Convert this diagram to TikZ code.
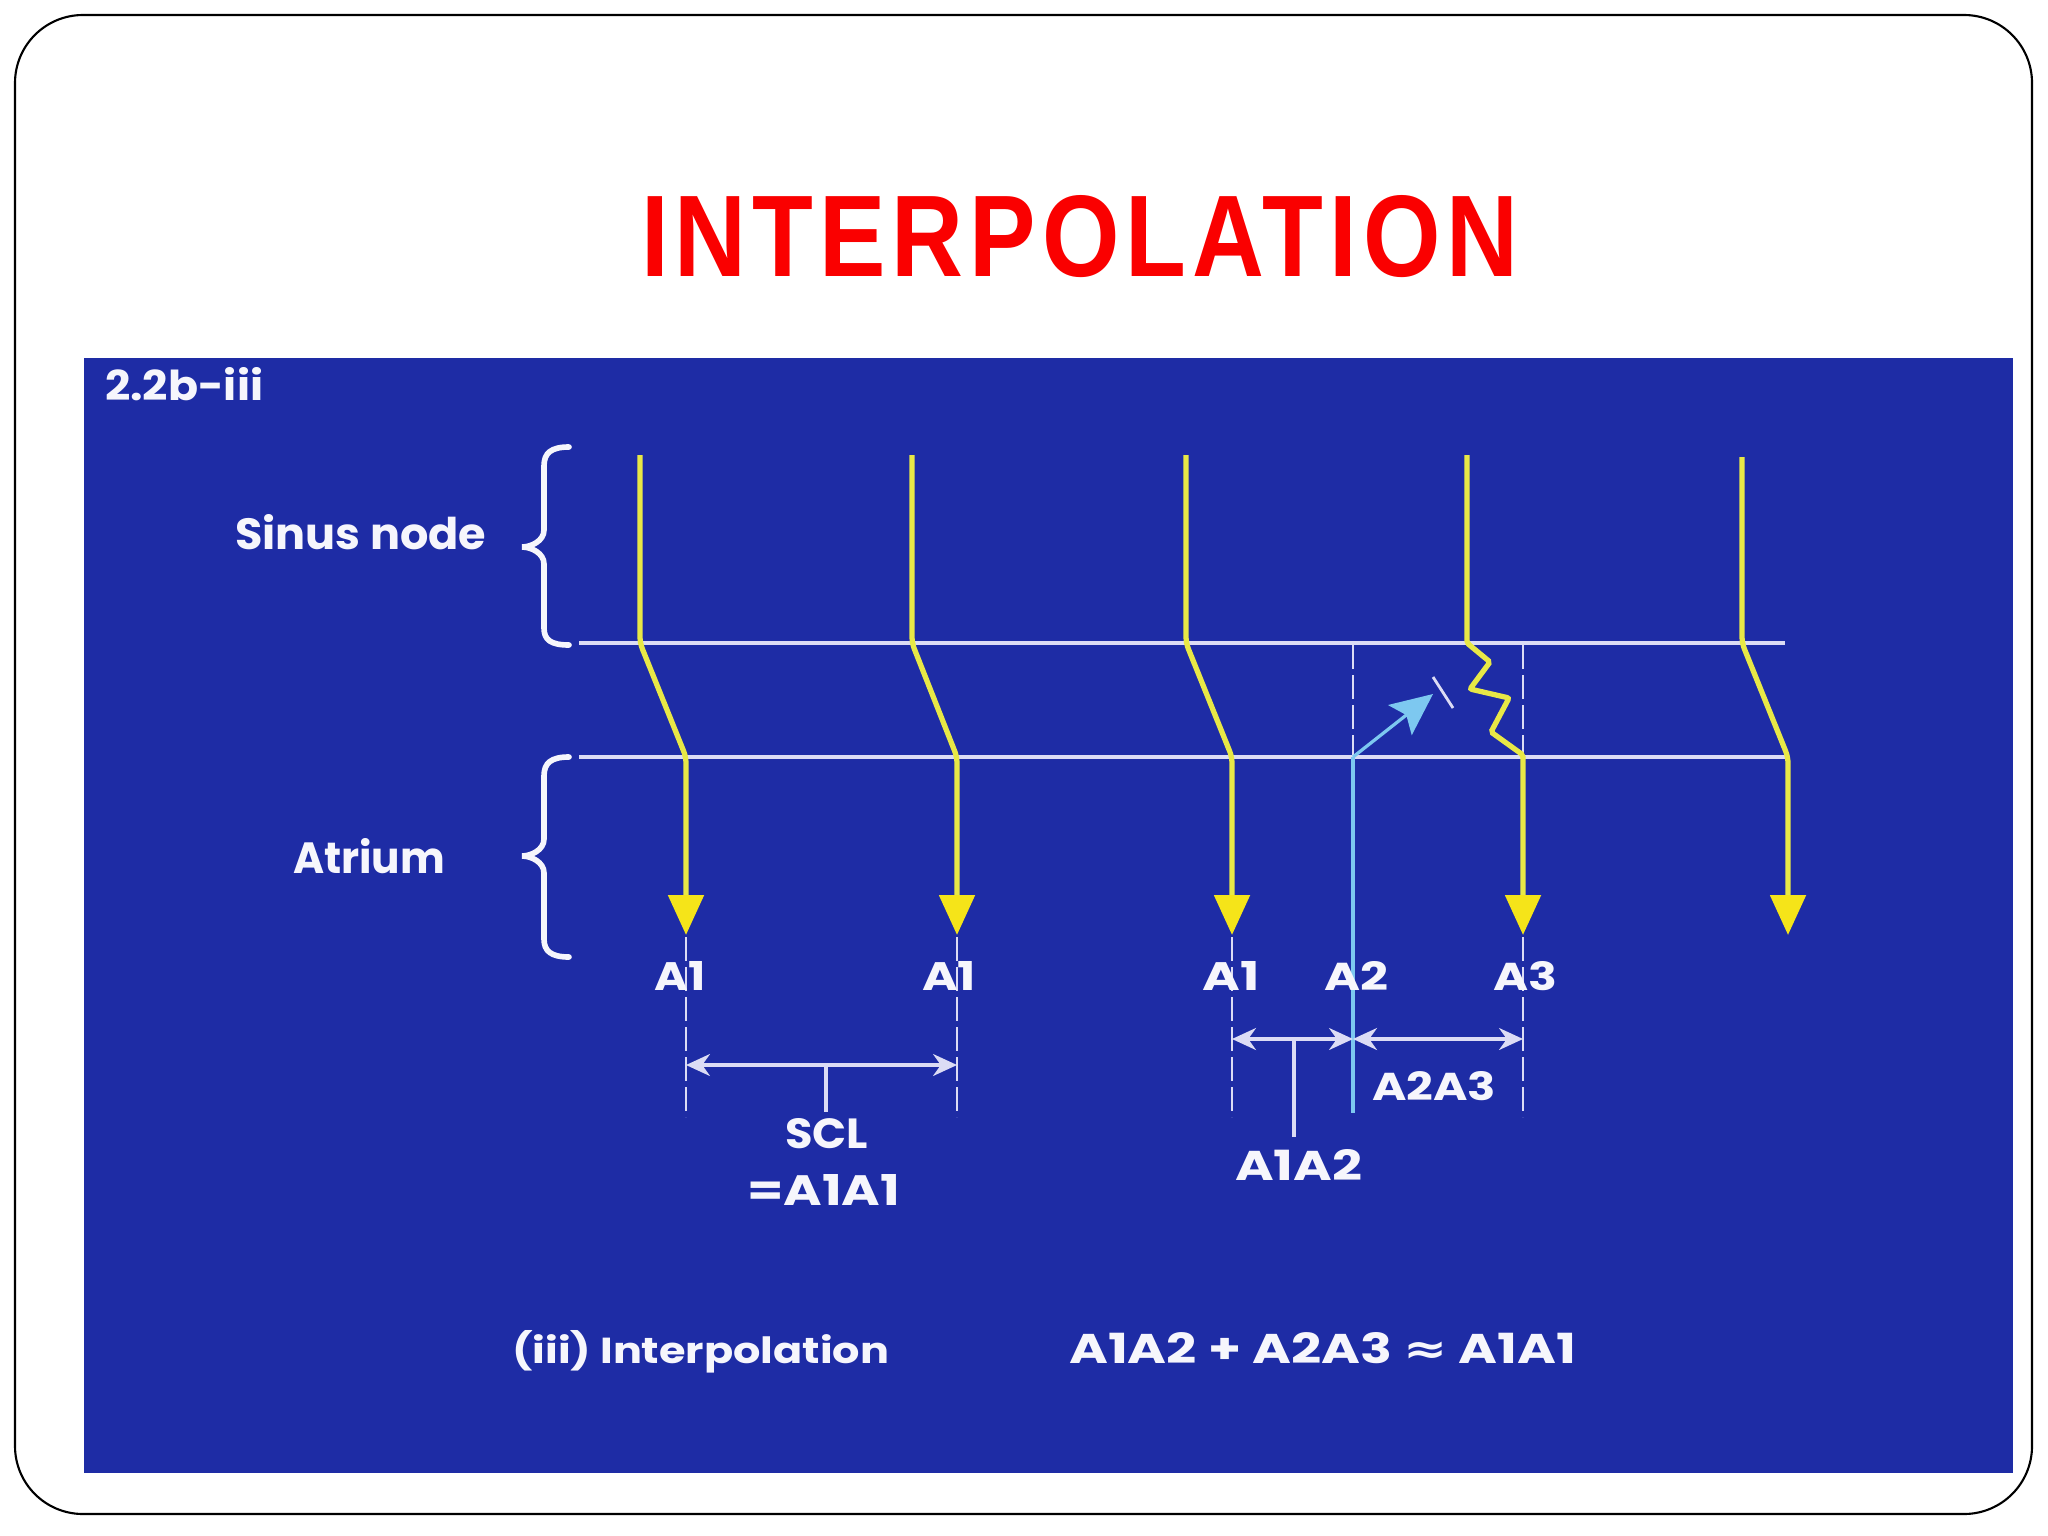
\documentclass[tikz,border=0pt]{standalone}
\usepackage{fontspec}
\usetikzlibrary{arrows.meta}
\newfontfamily\titlefont[LetterSpace=6]{Liberation Sans}
\newfontfamily\dfont{Poppins}
\newfontfamily\symfont{DejaVu Sans}
\definecolor{bgblue}{RGB}{30,44,165}
\definecolor{titlered}{RGB}{250,0,0}
\definecolor{paleline}{RGB}{220,220,245}
\definecolor{yel}{RGB}{232,232,70}
\definecolor{arrowyel}{RGB}{245,228,25}
\definecolor{skyc}{RGB}{125,200,240}
\definecolor{txtw}{RGB}{246,246,252}
\newcommand\fb[3]{\resizebox{#1}{#2}{#3}}
\begin{document}
\begin{tikzpicture}[x=0.05cm,y=-0.05cm,
  hline/.style={draw=paleline,line width=4.6pt},
  yelline/.style={draw=yel,line width=7.5pt,rounded corners=0.3cm,
     -{Triangle[length=2cm,width=1.75cm,color=arrowyel]}},
  dashline/.style={draw=paleline,line width=3.6pt,dash pattern=on 1.2cm off 0.3cm},
  dimline/.style={draw=paleline,line width=4.4pt},
  dimarrows/.style={{Stealth[length=1.2cm,width=1.1cm]}-{Stealth[length=1.2cm,width=1.1cm]}},
  bracestyle/.style={draw=txtw,line width=8pt,line cap=round},
  lbl/.style={text=txtw,inner sep=0pt,font=\dfont\bfseries},
]
\useasboundingbox (0,0) rectangle (2048,1536);
\fill[white] (0,0) rectangle (2048,1536);
% frame and panel
\draw[line width=3pt,rounded corners=3.4cm] (15,15) rectangle (2032,1514);
\fill[bgblue] (84,358) rectangle (2013,1473);
% title
\node[anchor=base,inner sep=0pt,text=titlered] (title) at (1080,276)
  {\fb{43.8cm}{4.05cm}{\titlefont\bfseries INTERPOLATION}};
% corner label
\node[lbl,anchor=base west] (fig) at (105,400) {\fb{7.9cm}{1.65cm}{2.2b-iii}};
\node[lbl,anchor=base west] (sinus) at (235,549) {\fb{12.55cm}{1.75cm}{Sinus node}};
\node[lbl,anchor=base west] (atrium) at (293,873) {\fb{7.6cm}{1.75cm}{Atrium}};
% braces
\draw[bracestyle] (569,447) .. controls (551,447) and (544,453) .. (544,466) -- (544,530)
  .. controls (544,541) and (531,547) .. (522,547) .. controls (531,547) and (544,553) .. (544,564)
  -- (544,628) .. controls (544,640) and (551,645) .. (569,645);
\draw[bracestyle] (569,757) .. controls (551,757) and (544,763) .. (544,776) -- (544,839)
  .. controls (544,850) and (531,856) .. (522,856) .. controls (531,856) and (544,862) .. (544,873)
  -- (544,939) .. controls (544,951) and (551,957) .. (569,957);
% horizontal levels
\coordinate (sL) at (579,643); \coordinate (sR) at (1785,643);
\coordinate (aL) at (579,757); \coordinate (aR) at (1789,757);
\draw[hline] (sL) -- (sR);
\draw[hline] (aL) -- (aR);
% dashed guides
\draw[dashline] (686,937) -- (686,1117);
\draw[dashline] (957,937) -- (957,1117);
\draw[dashline] (1232,937) -- (1232,1117);
\draw[dashline] (1523,937) -- (1523,1117);
\draw[dashline] (1353,645) -- (1353,757);
\draw[dashline] (1523,645) -- (1523,757);
% A2 line and premature impulse
\coordinate (a2top) at (1353,757);
\coordinate (a2bot) at (1353,1113);
\draw[draw=skyc,line width=4.4pt] (a2top) -- (a2bot);
\coordinate (pacTip) at (1433,694);
\draw[draw=skyc,line width=4.6pt,-{Stealth[length=2.1cm,width=1.9cm,inset=0.4cm]}] (a2top) -- (pacTip);
\coordinate (blk1) at (1433,677); \coordinate (blk2) at (1453,708);
\draw[draw=paleline,line width=4pt] (blk1) -- (blk2);
% sinus impulses
\draw[yelline] (640,455) -- (640,643) -- (686,757) -- (686,935);
\draw[yelline] (912,455) -- (912,643) -- (957,757) -- (957,935);
\draw[yelline] (1186,455) -- (1186,643) -- (1232,757) -- (1232,935);
\draw[yelline,rounded corners=0.1cm] (1467,455) -- (1467,643) -- (1490,662) -- (1470,689)
  -- (1509,698) -- (1491,732) -- (1523,755) -- (1523,935);
\draw[yelline] (1742,457) -- (1742,643) -- (1788,757) -- (1788,935);
% A labels
\node[lbl,anchor=base] (la1) at (680,990) {\fb{2.55cm}{1.45cm}{A1}};
\node[lbl,anchor=base] (la2) at (949,990) {\fb{2.7cm}{1.45cm}{A1}};
\node[lbl,anchor=base] (la3) at (1231,990) {\fb{2.85cm}{1.45cm}{A1}};
\node[lbl,anchor=base] (la4) at (1356,990) {\fb{3.2cm}{1.45cm}{A2}};
\node[lbl,anchor=base] (la5) at (1525,990) {\fb{3.2cm}{1.45cm}{A3}};
% interval arrows
\coordinate (s1) at (686,1065); \coordinate (s2) at (957,1065);
\draw[dimline,dimarrows] (s1) -- (s2);
\coordinate (st1) at (826,1065); \coordinate (st2) at (826,1112);
\draw[dimline] (st1) -- (st2);
\coordinate (p1) at (1232,1039); \coordinate (p2) at (1353,1039); \coordinate (p3) at (1523,1039);
\draw[dimline,dimarrows] (p1) -- (p2);
\draw[dimline,dimarrows] (p2) -- (p3);
\coordinate (pt1) at (1294,1039); \coordinate (pt2) at (1294,1137);
\draw[dimline] (pt1) -- (pt2);
\node[lbl,anchor=base west] (scl) at (785,1148) {\fb{4.15cm}{1.5cm}{SCL}};
\node[lbl,anchor=base west] (eqa) at (747,1205) {\fb{7.65cm}{1.55cm}{=A1A1}};
\node[lbl,anchor=base west] (a2a3) at (1372,1100) {\fb{6.2cm}{1.45cm}{A2A3}};
\node[lbl,anchor=base west] (a1a2) at (1235,1180) {\fb{6.35cm}{1.55cm}{A1A2}};
% bottom line
\node[lbl,anchor=base west] (cap) at (512,1363) {\fb{18.85cm}{1.65cm}{(iii) Interpolation}};
\node[lbl,anchor=base west] (eqn) at (1069,1363)
  {\fb{25.35cm}{1.55cm}{A1A2 + A2A3 {\symfont\bfseries ≈} A1A1}};
\end{tikzpicture}
\end{document}
